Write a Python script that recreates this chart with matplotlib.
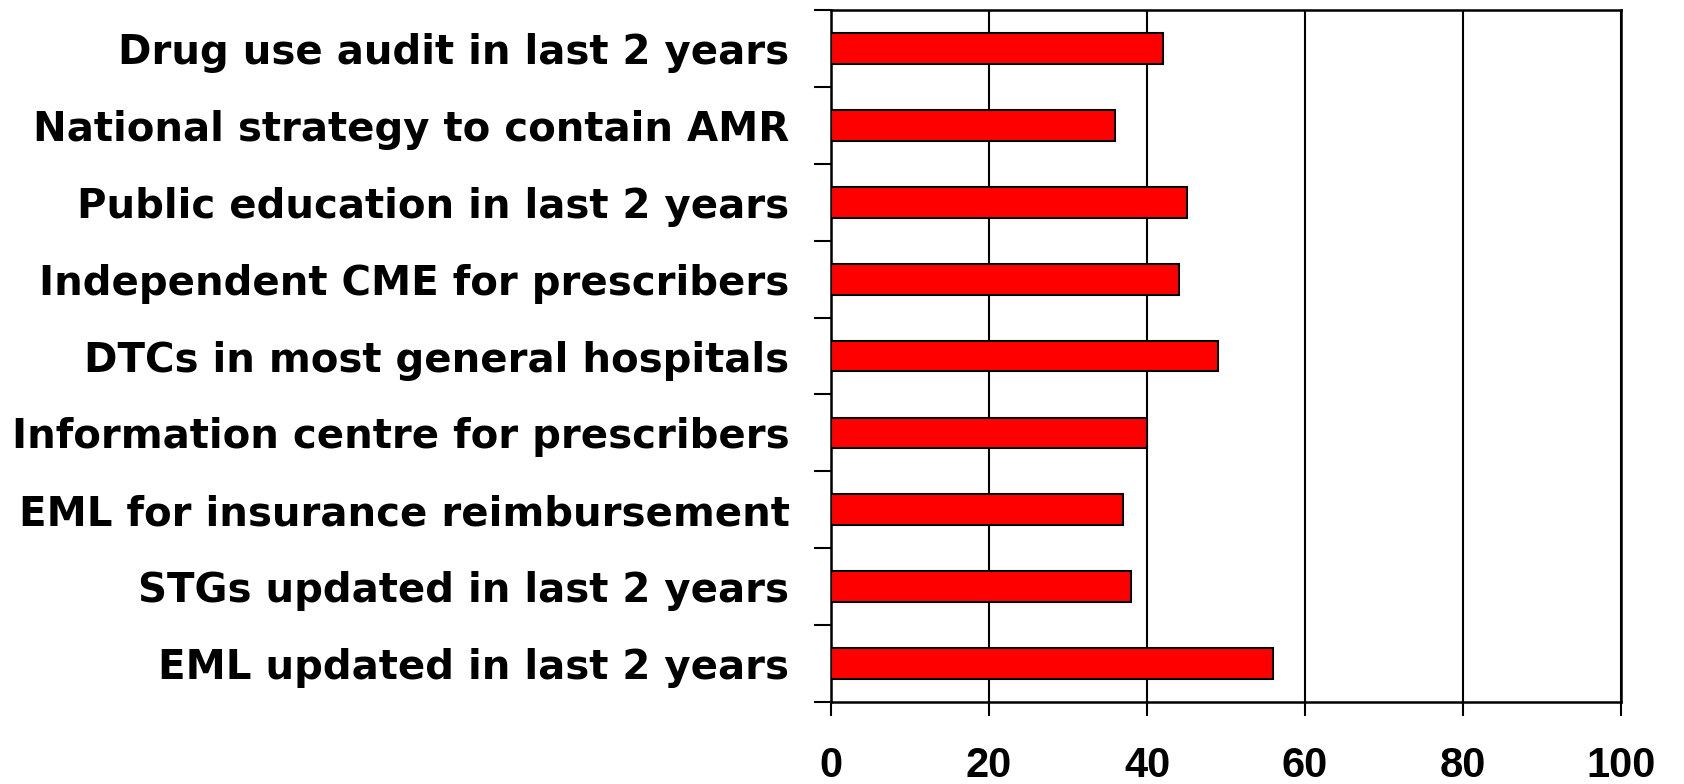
import matplotlib
matplotlib.use("Agg")
import matplotlib.pyplot as plt
import numpy as np

labels = ["Drug use audit in last 2 years",
          "National strategy to contain AMR",
          "Public education in last 2 years",
          "Independent CME for prescribers",
          "DTCs in most general hospitals",
          "Information centre for prescribers",
          "EML for insurance reimbursement",
          "STGs updated in last 2 years",
          "EML updated in last 2 years"]
values = [42, 36, 45, 44, 49, 40, 37, 38, 56]
xticks = [0, 20, 40, 60, 80, 100]

plt.rcParams['font.family'] = ['Liberation Sans', 'DejaVu Sans']
plt.rcParams['font.weight'] = 'bold'

fig = plt.figure(figsize=(16.84, 7.84), dpi=100)
ax = fig.add_axes([0.4935, 0.1046, 0.9626 - 0.4935, 0.9872 - 0.1046])

y = np.arange(len(labels))
ax.set_axisbelow(True)
ax.barh(y, values, height=0.4, color="#ff0000", edgecolor="black", linewidth=1.5, zorder=3)

ax.set_xlim(0, 100)
ax.set_ylim(len(labels) - 0.5, -0.5)
ax.set_xticks(xticks)
ax.set_xticklabels([str(t) for t in xticks], fontsize=30, fontweight="bold")
ax.set_yticks(y)
# wider face, closer to the stretched look of the original labels
ax.set_yticklabels(labels, fontsize=29, fontweight="bold", family="DejaVu Sans")
ax.set_yticks(np.arange(len(labels) + 1) - 0.5, minor=True)

ax.tick_params(axis="y", which="major", length=0, pad=30)
ax.tick_params(axis="y", which="minor", length=12, width=1.5, direction="out")
ax.tick_params(axis="x", length=10, width=1.5, direction="out", pad=22)

ax.xaxis.grid(True, color="black", linewidth=1.5)
for s in ax.spines.values():
    s.set_linewidth(1.8)

fig.savefig("out.png", dpi=100)
